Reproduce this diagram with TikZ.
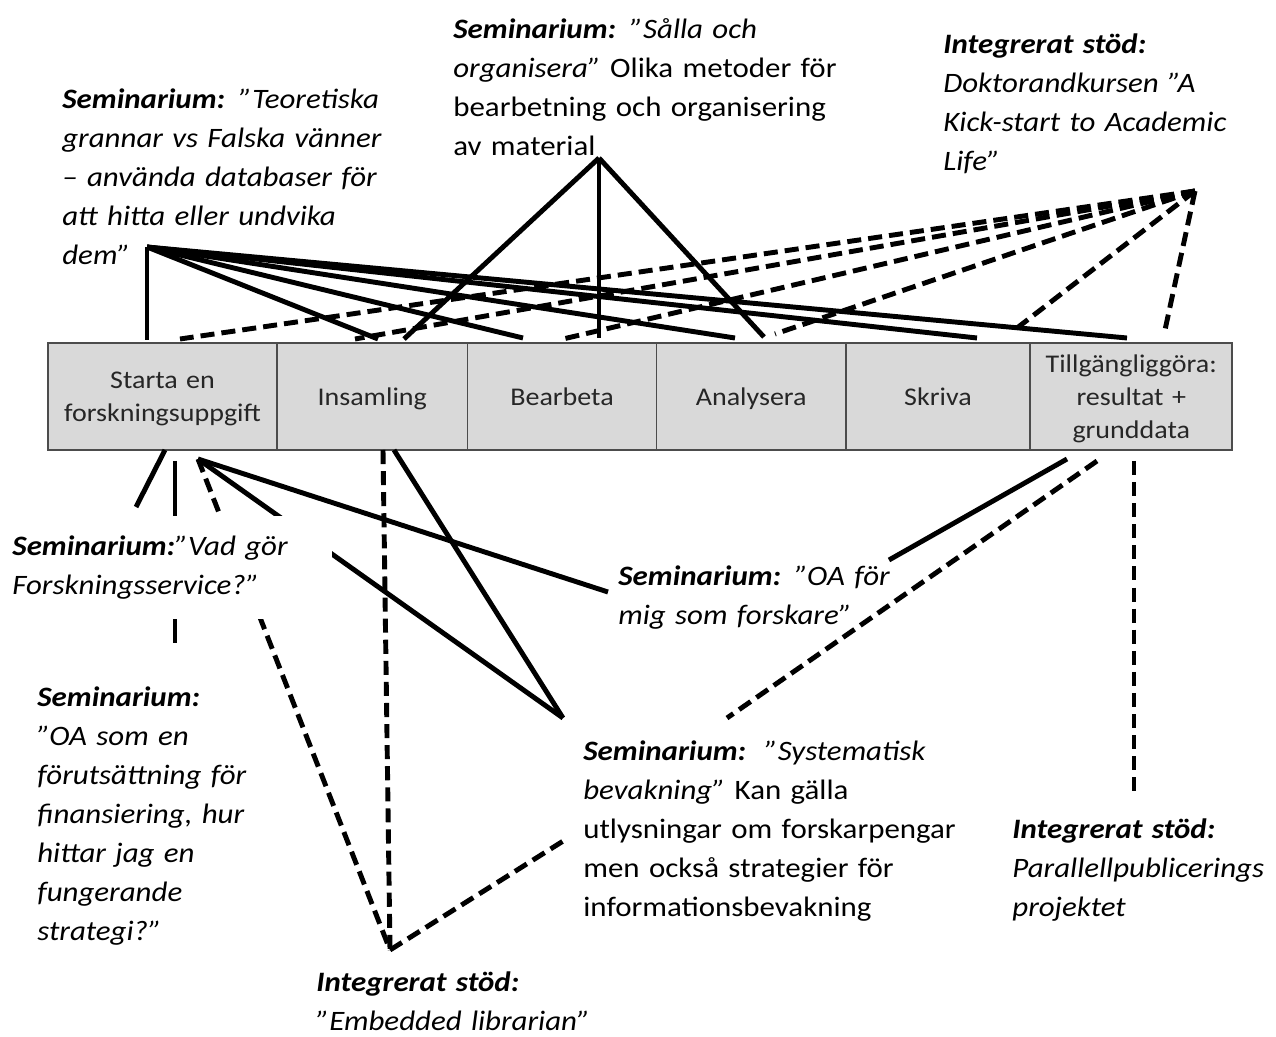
\documentclass[tikz,border=0pt]{standalone}
\usepackage{fontspec}
\setmainfont{Carlito}[FakeStretch=1.1]
\usepackage{tikz}
\usetikzlibrary{positioning,chains}

\begin{document}
\begin{tikzpicture}[
    x=0.02cm, y=-0.02cm,
    cell/.style={draw=black!70, line width=1pt, fill=black!15, on chain, outer sep=0pt,
                 inner sep=0pt, minimum height=60.7pt, align=center, text=black!85,
                 font=\fontsize{14.5}{18.8}\selectfont,
                 execute at begin node={\rule{0pt}{16pt}}, execute at end node=\strut},  % Style for the steps of the process
    lbl/.style={anchor=north west, align=left, inner sep=0pt, text width=9cm,
                font=\fontsize{16}{22.2}\selectfont},           % Style for the text labels
    link/.style={line width=2.8pt},                             % Style for the solid lines
    dlink/.style={link, dash pattern=on 8pt off 4pt},           % Style for the dashed lines
    start chain=going right,                                    % Steps arranged horizontally
    node distance=0pt
    ]
    \useasboundingbox (0,0) rectangle (1276,1037);

    % The steps of the process
    \node[cell, text width=130.4pt, anchor=north west] (start) at (48,343) {Starta en\\forskningsuppgift};
    \node[cell, text width=108.3pt] (insam) {Insamling};
    \node[cell, text width=107.7pt] (bearb) {Bearbeta};
    \node[cell, text width=107.7pt] (analys) {Analysera};
    \node[cell, text width=104.9pt] (skriva) {Skriva};
    \node[cell, text width=115.1pt] (tillg) {Tillgängliggöra:\\resultat +\\grunddata};

    % Meeting points of the lines
    \coordinate (teo) at (147,247);
    \coordinate (salla) at (599,158);
    \coordinate (dokt) at (1195,191);
    \coordinate (sys) at (563,718);
    \coordinate (emb) at (390,950);

    % Ends on top of the steps
    \coordinate (startTa) at (147,340);
    \coordinate (startTb) at (180,339);
    \coordinate (insTa) at (355,339);
    \coordinate (insTb) at (378,339);
    \coordinate (insTc) at (404,339);
    \coordinate (bearTa) at (523,338);
    \coordinate (bearTb) at (563,339);
    \coordinate (bearTc) at (599,338);
    \coordinate (anaTa) at (735,338);
    \coordinate (anaTb) at (764,337);
    \coordinate (anaTc) at (775,334);
    \coordinate (skrTa) at (977,338);
    \coordinate (skrTb) at (1017,328);
    \coordinate (tillTa) at (1127,338);
    \coordinate (tillTb) at (1165,330);

    % Ends below the steps
    \coordinate (startBa) at (165,450);
    \coordinate (startBb) at (175,461);
    \coordinate (startBc) at (198,459);
    \coordinate (insBa) at (383,450);
    \coordinate (insBb) at (394,450);
    \coordinate (tillBa) at (1067,459);
    \coordinate (tillBb) at (1097,461);
    \coordinate (tillBc) at (1134,461);

    % Ends at the labels
    \coordinate (vadE) at (136,507);
    \coordinate (oaE) at (175,643);
    \coordinate (migA) at (608,592);
    \coordinate (migB) at (889,560);
    \coordinate (sysB) at (727,718);
    \coordinate (sysC) at (568,838);
    \coordinate (parE) at (1134,791);

    % Teoretiska grannar goes to every step
    \draw[link] (teo) -- (startTa);
    \draw[link] (teo) -- (insTb);
    \draw[link] (teo) -- (bearTa);
    \draw[link] (teo) -- (anaTa);
    \draw[link] (teo) -- (skrTa);
    \draw[link] (teo) -- (tillTa);

    % Salla och organisera
    \draw[link] (salla) -- (insTc);
    \draw[link] (salla) -- (bearTc);
    \draw[link] (salla) -- (anaTb);

    % Doktorandkursen, dashed to every step
    \draw[dlink] (dokt) -- (startTb);
    \draw[dlink] (dokt) -- (insTa);
    \draw[dlink] (dokt) -- (bearTb);
    \draw[dlink] (dokt) -- (anaTc);
    \draw[dlink] (dokt) -- (skrTb);
    \draw[dlink] (dokt) -- (tillTb);

    % Lines below the steps
    \draw[link] (startBa) -- (vadE);
    \draw[link] (startBb) -- (oaE);
    \draw[link] (startBc) -- (sys);
    \draw[link] (startBc) -- (migA);
    \draw[dlink] (startBc) -- (emb);
    \draw[link] (insBb) -- (sys);
    \draw[dlink] (insBa) -- (emb);
    \draw[dlink] (emb) -- (sysC);
    \draw[link] (tillBa) -- (migB);
    \draw[dlink] (tillBb) -- (sysB);
    \draw[dlink] (tillBc) -- (parE);

    % Labels above the steps
    \node[lbl] (teoL) at (62,88) {{\bfseries\itshape Seminarium:} \itshape ”Teoretiska\\grannar vs Falska vänner\\– använda databaser för\\att hitta eller undvika\\dem”};
    \node[lbl] (sallaL) at (453,18) {{\bfseries\itshape Seminarium:} \textit{”Sålla och\\organisera”} Olika metoder för\\bearbetning och organisering\\av material};
    \node[lbl] (doktL) at (943,33) {{\bfseries\itshape Integrerat stöd:}\\\itshape Doktorandkursen ”A\\Kick-start to Academic\\Life”};

    % Labels below the steps
    \node[lbl, fill=white, text width=178pt, inner xsep=4pt, inner ysep=11pt] (vadL) at (5,516) {{\bfseries\itshape Seminarium:}\itshape ”Vad gör\\Forskningsservice?”};
    \node[lbl] (oaL) at (37,686) {{\bfseries\itshape Seminarium:}\\\itshape ”OA som en\\förutsättning för\\finansiering, hur\\hittar jag en\\fungerande\\strategi?”};
    \node[lbl] (embL) at (316,971) {{\bfseries\itshape Integrerat stöd:}\\\itshape ”Embedded librarian”};
    \node[lbl] (migL) at (618,565) {{\bfseries\itshape Seminarium:} \itshape ”OA för\\mig som forskare”};
    \node[lbl] (sysL) at (583,740) {{\bfseries\itshape Seminarium:}\ \ \textit{”Systematisk\\bevakning”} Kan gälla\\utlysningar om forskarpengar\\men också strategier för\\informationsbevakning};
    \node[lbl] (parL) at (1012,818) {{\bfseries\itshape Integrerat stöd:}\\\itshape Parallellpublicerings\\projektet};

\end{tikzpicture}
\end{document}
